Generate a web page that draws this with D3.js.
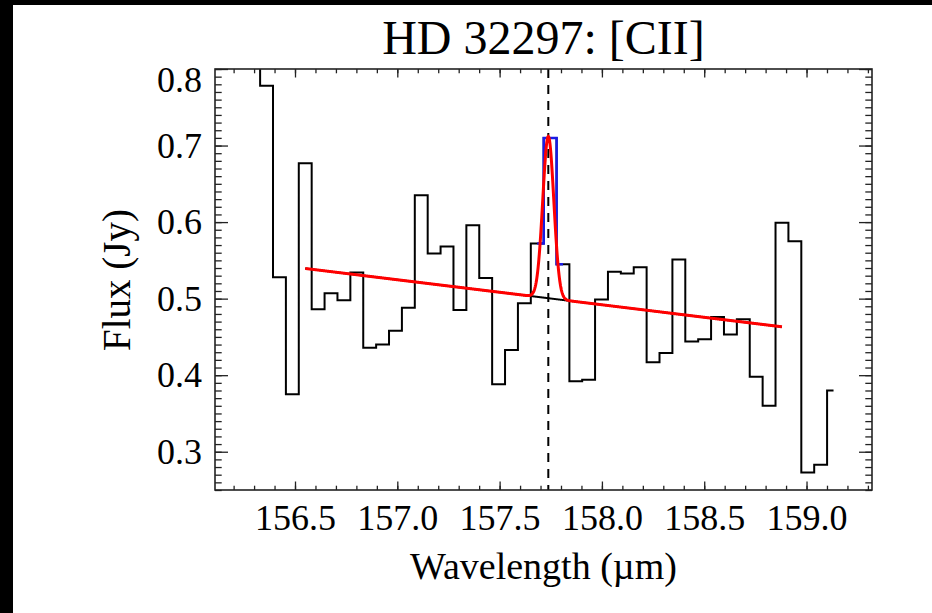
<!DOCTYPE html>
<html>
<head>
<meta charset="utf-8">
<script src="https://cdn.jsdelivr.net/npm/d3@7"></script>
<style>
  html, body { margin: 0; padding: 0; background: #fff; overflow: hidden; }
  svg { display: block; font-family: "Liberation Serif", "Times New Roman", serif; }
</style>
</head>
<body>
<div id="chart-area"></div>
<script>
// spectrum (PACS [CII] bins)
var wavelength = [156.109, 156.172, 156.235, 156.298, 156.361, 156.424, 156.487, 156.550,
    156.613, 156.676, 156.739, 156.802, 156.865, 156.928, 156.991, 157.054, 157.117,
    157.180, 157.243, 157.306, 157.369, 157.432, 157.495, 157.558, 157.621, 157.684,
    157.747, 157.810, 157.872, 157.935, 157.998, 158.061, 158.124, 158.187, 158.250,
    158.313, 158.376, 158.439, 158.502, 158.565, 158.628, 158.691, 158.754, 158.817,
    158.880, 158.943, 159.006, 159.069, 159.132];
var flux = [0.98, 0.93, 0.90, 0.86, 0.778, 0.528, 0.375, 0.677,
    0.486, 0.507, 0.498, 0.534, 0.436, 0.440, 0.458, 0.488, 0.635,
    0.559, 0.568, 0.485, 0.596, 0.527, 0.388, 0.433, 0.494, 0.572,
    0.710, 0.545, 0.392, 0.394, 0.499, 0.535, 0.533, 0.541, 0.417,
    0.429, 0.551, 0.444, 0.447, 0.476, 0.453, 0.473, 0.398, 0.360,
    0.599, 0.575, 0.273, 0.283, 0.380];
// bins flagged as line emission (drawn blue)
var lineBins = [25, 26, 27];

// fit: linear continuum + gaussian
var fitRange = [156.550, 158.880];
var contFlux = [0.5394, 0.4632];
var lineCenter = 157.738;
var lineAmp = 0.2114;
var lineSigma = 0.027;

var xTicks = [156.5, 157.0, 157.5, 158.0, 158.5, 159.0];
var yTicks = [0.3, 0.4, 0.5, 0.6, 0.7, 0.8];

var margin = { left: 215, right: 60, top: 69, bottom: 123 };
var fullW = 932, fullH = 613;
var width = fullW - margin.left - margin.right,
    height = fullH - margin.top - margin.bottom;

var svg = d3.select("#chart-area")
    .append("svg")
        .attr("width", fullW)
        .attr("height", fullH);

svg.append("rect").attr("width", fullW).attr("height", fullH).attr("fill", "#fff");
// black strips along the top and left edge
svg.append("rect").attr("width", fullW).attr("height", 5).attr("fill", "#000");
svg.append("rect").attr("width", 13).attr("height", fullH).attr("fill", "#000");

var g = svg.append("g")
    .attr("transform", "translate(" + margin.left + "," + margin.top + ")");

var x = d3.scaleLinear().domain([156.109, 159.32]).range([0, width]);
var y = d3.scaleLinear().domain([0.25, 0.8]).range([height, 0]);

g.append("clipPath").attr("id", "clip")
    .append("rect").attr("width", width).attr("height", height);

var plot = g.append("g").attr("clip-path", "url(#clip)");

var step = d3.line()
    .x(function(d){ return x(d[0]); })
    .y(function(d){ return y(d[1]); })
    .curve(d3.curveStep);

var spec = wavelength.map(function(w, i){ return [w, flux[i]]; });

plot.append("path")
    .datum(spec)
    .attr("d", step)
    .attr("fill", "none")
    .attr("stroke", "#000")
    .attr("stroke-width", 2);

plot.append("path")
    .datum(lineBins.map(function(i){ return spec[i]; }))
    .attr("d", step)
    .attr("fill", "none")
    .attr("stroke", "#1a1ae6")
    .attr("stroke-width", 2.5);

// rest wavelength marker
plot.append("line")
    .attr("x1", x(lineCenter)).attr("x2", x(lineCenter))
    .attr("y1", 0).attr("y2", height)
    .attr("stroke", "#000")
    .attr("stroke-width", 2)
    .attr("stroke-dasharray", "9,7");

function continuum(w) {
    return contFlux[0] + (contFlux[1] - contFlux[0]) * (w - fitRange[0]) / (fitRange[1] - fitRange[0]);
}
var grid = d3.range(fitRange[0], fitRange[1], 0.002).concat([fitRange[1]]);

var smooth = d3.line()
    .x(function(d){ return x(d[0]); })
    .y(function(d){ return y(d[1]); });

plot.append("path")
    .datum(grid.map(function(w){ return [w, continuum(w)]; }))
    .attr("d", smooth)
    .attr("fill", "none")
    .attr("stroke", "#000")
    .attr("stroke-width", 2);

plot.append("path")
    .datum(grid.map(function(w){
        var z = (w - lineCenter) / lineSigma;
        return [w, continuum(w) + lineAmp * Math.exp(-0.5 * z * z)];
    }))
    .attr("d", smooth)
    .attr("fill", "none")
    .attr("stroke", "#ff0000")
    .attr("stroke-width", 3);

// axes: ticks inside on all four sides
var xMinor = d3.range(156.2, 159.32, 0.1);
var yMinor = d3.range(0.25, 0.8001, 0.01);

function styleAxis(sel) {
    sel.select(".domain").remove();
    sel.selectAll("line").attr("stroke", "#222").attr("stroke-width", 1.3);
    sel.selectAll("text").attr("fill", "#000").style("font-size", "36px")
        .style("font-family", "'Liberation Serif', 'Times New Roman', serif");
}

g.append("g")
    .attr("transform", "translate(0," + height + ")")
    .call(d3.axisBottom(x).tickValues(xMinor).tickSize(-4.3).tickFormat(""))
    .call(styleAxis);
g.append("g")
    .attr("transform", "translate(0," + height + ")")
    .call(d3.axisBottom(x).tickValues(xTicks).tickSize(-8.5).tickPadding(14)
        .tickFormat(d3.format(".1f")))
    .call(styleAxis);
g.append("g")
    .call(d3.axisTop(x).tickValues(xMinor).tickSize(-4.3).tickFormat(""))
    .call(styleAxis);
g.append("g")
    .call(d3.axisTop(x).tickValues(xTicks).tickSize(-8.5).tickFormat(""))
    .call(styleAxis);

g.append("g")
    .call(d3.axisLeft(y).tickValues(yMinor).tickSize(-6.7).tickFormat(""))
    .call(styleAxis);
var yAxis = g.append("g")
    .call(d3.axisLeft(y).tickValues(yTicks).tickSize(-13).tickPadding(13)
        .tickFormat(d3.format(".1f")))
    .call(styleAxis);
// top label sits a little below the frame corner
yAxis.selectAll("text").filter(function(d){ return d > 0.79; }).attr("dy", "0.62em");

g.append("g")
    .attr("transform", "translate(" + width + ",0)")
    .call(d3.axisRight(y).tickValues(yMinor).tickSize(-6.7).tickFormat(""))
    .call(styleAxis);
g.append("g")
    .attr("transform", "translate(" + width + ",0)")
    .call(d3.axisRight(y).tickValues(yTicks).tickSize(-13).tickFormat(""))
    .call(styleAxis);

g.append("rect")
    .attr("width", width).attr("height", height)
    .attr("fill", "none")
    .attr("stroke", "#222")
    .attr("stroke-width", 1.6);

// Labels
g.append("text")
    .attr("x", width / 2)
    .attr("y", -15)
    .attr("text-anchor", "middle")
    .style("font-size", "48px")
    .text("HD 32297: [CII]");
g.append("text")
    .attr("x", width / 2)
    .attr("y", height + 89)
    .attr("text-anchor", "middle")
    .style("font-size", "38px")
    .text("Wavelength (\u00b5m)");
g.append("text")
    .attr("transform", "rotate(-90)")
    .attr("x", -211)
    .attr("y", -85)
    .attr("text-anchor", "middle")
    .style("font-size", "39px")
    .text("Flux (Jy)");
</script>
</body>
</html>
